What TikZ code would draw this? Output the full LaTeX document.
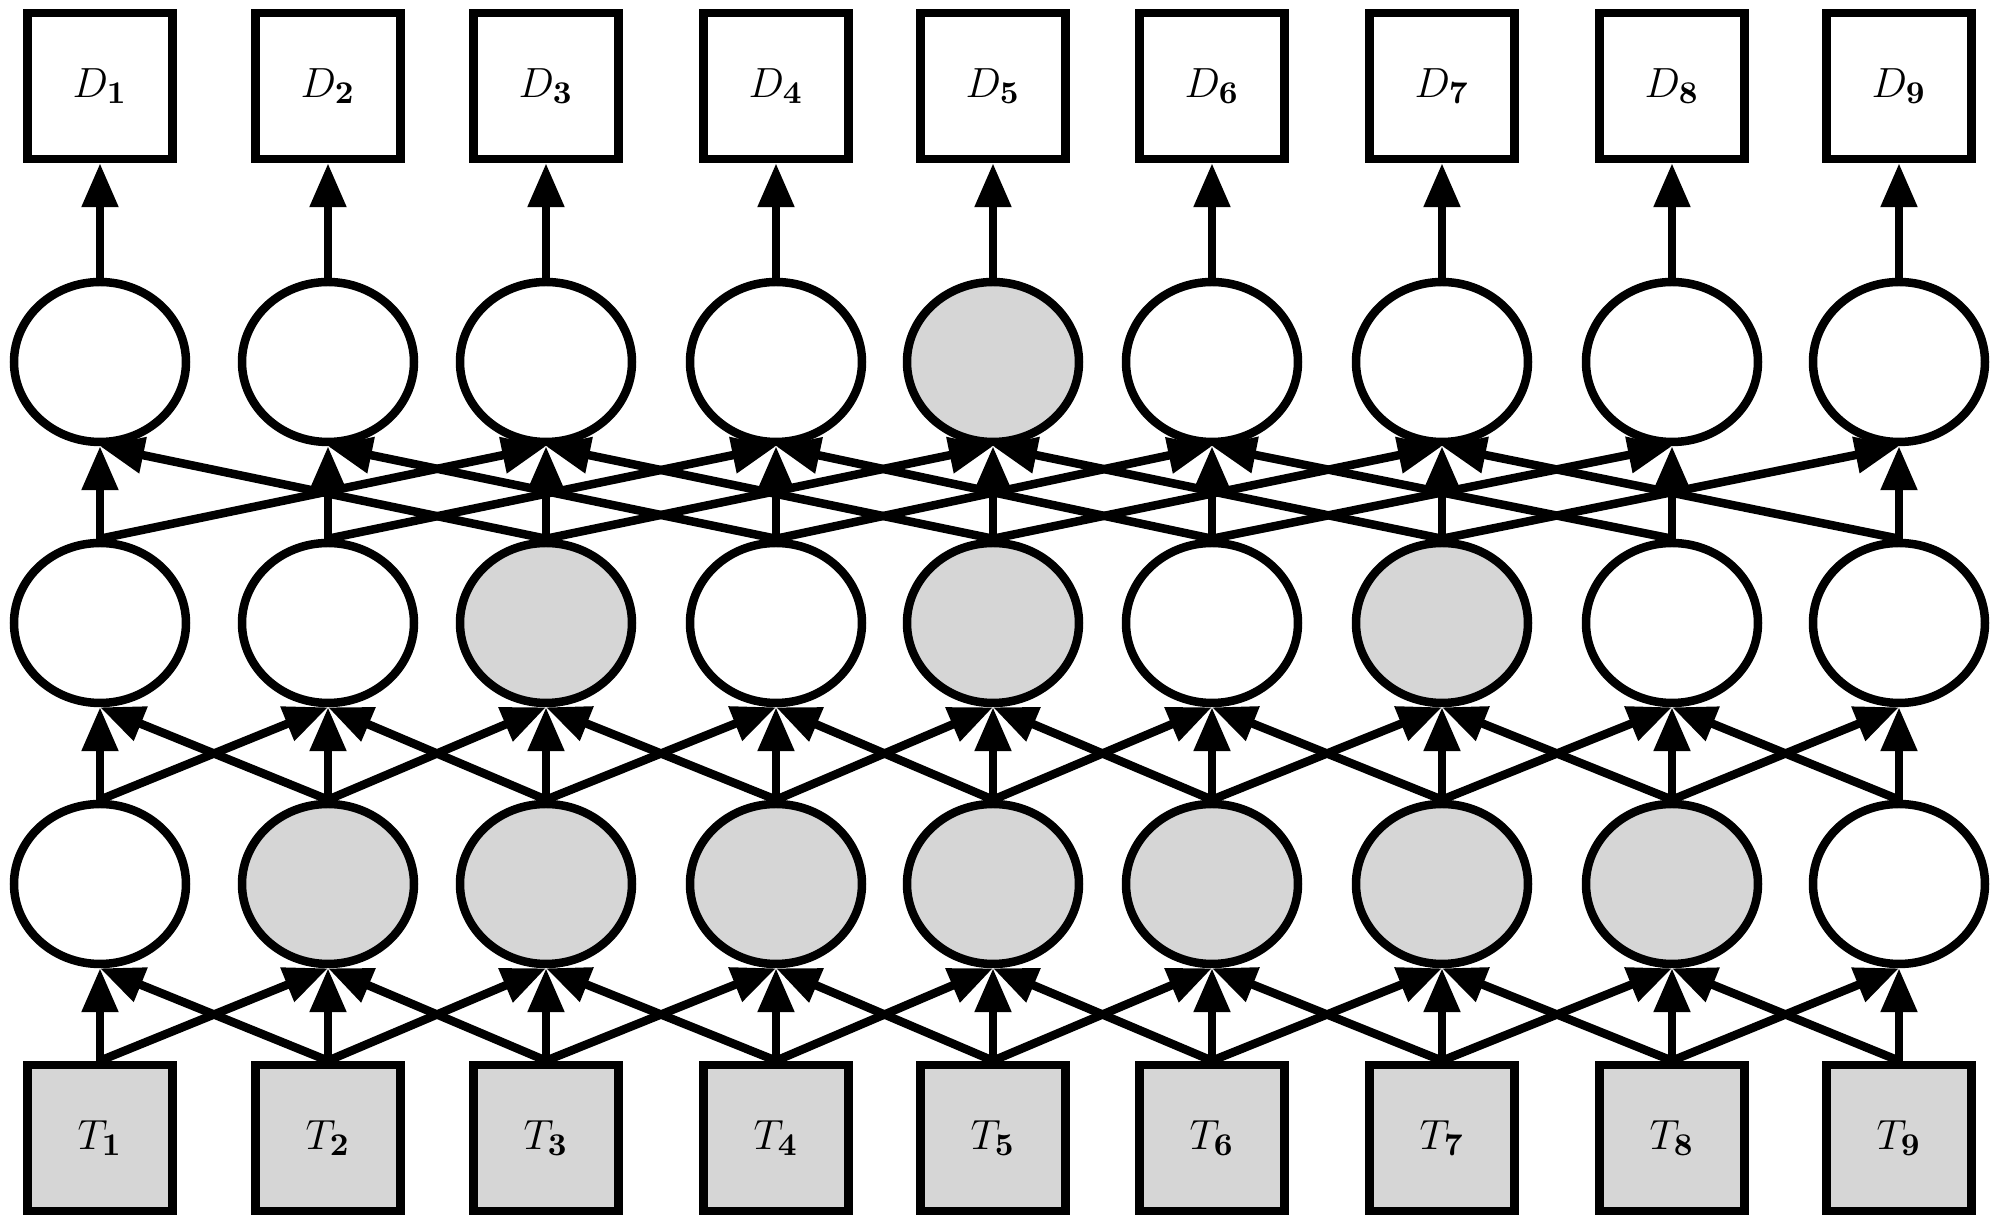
\documentclass[tikz,border=0pt]{standalone}
\usetikzlibrary{arrows.meta,shapes.geometric}
\definecolor{shade}{RGB}{214,214,214}
\begin{document}
\begin{tikzpicture}[x=0.1mm,y=-0.1mm,
  lw/.style={line width=0.85mm},
  sq/.style={draw,lw,minimum width=14.5mm,minimum height=14.6mm,inner sep=0pt,font=\fontsize{13}{15}\selectfont},
  lat/.style={ellipse,draw,lw,minimum width=17.2mm,minimum height=16mm,inner sep=0pt},
  edge/.style={lw,-{Triangle[length=4.4mm,width=3.5mm]}}]
\useasboundingbox (0,0) rectangle (2000,1224);
\foreach \x/\a/\b/\c [count=\i] in {100/white/white/white,328/shade/white/white,546/shade/shade/white,776/shade/white/white,993/shade/shade/shade,1212/shade/white/white,1442/shade/shade/white,1672/shade/white/white,1899/white/white/white}{
  \node[sq,fill=shade] (T\i) at (\x,1138) {$T_{\mathbf{\i}}$};
  \node[lat,fill=\a] (A\i) at (\x,884) {};
  \node[lat,fill=\b] (B\i) at (\x,623) {};
  \node[lat,fill=\c] (C\i) at (\x,362) {};
  \node[sq,fill=white] (D\i) at (\x,86) {$D_{\mathbf{\i}}$};
}
\foreach \i in {1,...,9}{
  \draw[edge] (T\i.north) -- (A\i.south);
  \draw[edge] (A\i.north) -- (B\i.south);
  \draw[edge] (B\i.north) -- (C\i.south);
  \draw[edge] (C\i.north) -- (D\i.south);
}
\foreach \i in {1,...,8}{
  \pgfmathtruncatemacro\j{\i+1}
  \draw[edge] (T\i.north) -- (A\j.south);
  \draw[edge] (T\j.north) -- (A\i.south);
  \draw[edge] (A\i.north) -- (B\j.south);
  \draw[edge] (A\j.north) -- (B\i.south);
}
\foreach \i in {1,...,7}{
  \pgfmathtruncatemacro\j{\i+2}
  \draw[edge] (B\i.north) -- (C\j.south);
  \draw[edge] (B\j.north) -- (C\i.south);
}
\end{tikzpicture}
\end{document}
